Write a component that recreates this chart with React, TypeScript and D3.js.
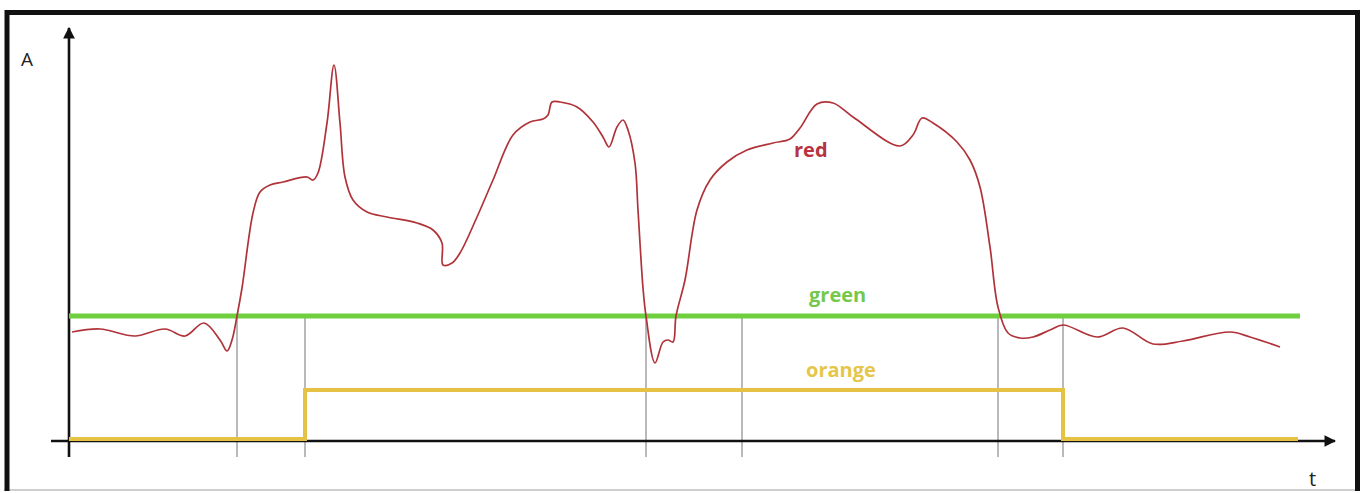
import React, { useEffect, useRef } from 'react';
import * as d3 from 'd3';

// red signal, sampled as [t, A]
const redSamples: [number, number][] = [
  [3, 109], [31, 112], [66, 105], [96, 112], [116, 105], [135, 118], [151, 101], [158, 90],
  [163, 101], [168, 125], [173, 153], [184, 228], [191, 249], [201, 256], [214, 259], [238, 264],
  [244, 261], [249, 268], [258, 318], [265, 376], [271, 318], [276, 264], [284, 241], [298, 229],
  [318, 224], [348, 218], [364, 211], [373, 198], [374, 176], [383, 178], [391, 188], [408, 224],
  [424, 261], [444, 306], [461, 319], [474, 322], [479, 326], [483, 339], [491, 339], [508, 334],
  [524, 319], [534, 304], [540, 294], [548, 314], [554, 321], [559, 311], [566, 278], [569, 231],
  [574, 153], [577, 125], [586, 78], [594, 99], [599, 101], [604, 99], [607, 125], [616, 161],
  [628, 231], [641, 261], [658, 279], [678, 291], [704, 298], [721, 302], [731, 313], [748, 337],
  [764, 338], [784, 324], [831, 295], [844, 306], [853, 323], [864, 318], [888, 299], [901, 281],
  [911, 254], [921, 194], [929, 134], [939, 108], [951, 103], [964, 104], [981, 111], [994, 116],
  [1028, 104], [1054, 113], [1084, 97], [1114, 100], [1161, 109], [1181, 104], [1211, 94],
];

// green threshold level
const greenLevel = 125;
const greenEnd = 1231;

// orange switching signal
const orangeT = [0, 236, 994, 1229];
const orangeA = [2, 51, 2, 2];

// times where the red signal crosses the threshold / orange switches
const markerT = [168, 236, 577, 673, 929, 994];

const labels = [
  { text: 'red', t: 725, a: 284, color: '#b8323f' },
  { text: 'green', t: 740, a: 139, color: '#76c84a' },
  { text: 'orange', t: 737, a: 64, color: '#e5c648' },
];

export default function App() {
  const ref = useRef<SVGSVGElement>(null);

  useEffect(() => {
    const svg = d3.select(ref.current);
    svg.selectAll('*').remove();

    const x = d3.scaleLinear().domain([0, 1231]).range([69, 1300]);
    const y = d3.scaleLinear().domain([0, 413]).range([441, 28]);

    // frame: black on three sides, faint line at the bottom
    svg.append('line')
      .attr('x1', 4).attr('x2', 1360)
      .attr('y1', 490).attr('y2', 490)
      .attr('stroke', '#cfcfcf').attr('stroke-width', 2);
    svg.append('path')
      .attr('d', 'M7,491 L7,12.5 L1357.5,12.5 L1357.5,491')
      .attr('fill', 'none')
      .attr('stroke', '#111')
      .attr('stroke-width', 5);

    // marker lines
    svg.selectAll('line.marker')
      .data(markerT)
      .enter()
      .append('line')
      .attr('class', 'marker')
      .attr('x1', d => x(d)).attr('x2', d => x(d))
      .attr('y1', y(greenLevel)).attr('y2', y(-16))
      .attr('stroke', '#a8a8a8')
      .attr('stroke-width', 1.6);

    // axes
    const defs = svg.append('defs');
    defs.append('marker')
      .attr('id', 'arrow')
      .attr('viewBox', '0 0 10 10')
      .attr('refX', 9).attr('refY', 5)
      .attr('markerWidth', 4.5).attr('markerHeight', 4.5)
      .attr('markerUnits', 'strokeWidth')
      .attr('orient', 'auto')
      .append('path')
      .attr('d', 'M0,0 L10,5 L0,10 z')
      .attr('fill', '#111');

    svg.append('line')
      .attr('x1', x(-18)).attr('x2', x(1266))
      .attr('y1', y(0)).attr('y2', y(0))
      .attr('stroke', '#111').attr('stroke-width', 2.6)
      .attr('marker-end', 'url(#arrow)');
    svg.append('line')
      .attr('x1', x(0)).attr('x2', x(0))
      .attr('y1', y(-16)).attr('y2', y(413))
      .attr('stroke', '#111').attr('stroke-width', 2.6)
      .attr('marker-end', 'url(#arrow)');

    svg.append('text')
      .attr('x', 21).attr('y', 66)
      .attr('font-family', 'Open Sans, sans-serif')
      .attr('font-size', 19)
      .attr('fill', '#222')
      .text('A');
    svg.append('text')
      .attr('x', 1309).attr('y', 486)
      .attr('font-family', 'Open Sans, sans-serif')
      .attr('font-size', 20)
      .attr('fill', '#222')
      .text('t');

    // green threshold
    svg.append('line')
      .attr('x1', x(0)).attr('x2', x(greenEnd))
      .attr('y1', y(greenLevel)).attr('y2', y(greenLevel))
      .attr('stroke', '#6fcf3f')
      .attr('stroke-width', 5);

    // orange step signal
    svg.append('path')
      .datum(orangeT.map((t, i) => [t, orangeA[i]] as [number, number]))
      .attr('fill', 'none')
      .attr('stroke', '#e6c244')
      .attr('stroke-width', 4)
      .attr('d', d3.line<[number, number]>()
        .x(d => x(d[0]))
        .y(d => y(d[1]))
        .curve(d3.curveStepAfter));

    // red signal
    svg.append('path')
      .datum(redSamples)
      .attr('fill', 'none')
      .attr('stroke', '#b0333a')
      .attr('stroke-width', 1.7)
      .attr('stroke-linejoin', 'round')
      .attr('d', d3.line<[number, number]>()
        .x(d => x(d[0]))
        .y(d => y(d[1]))
        .curve(d3.curveCatmullRom.alpha(0.5)));

    svg.selectAll('text.label')
      .data(labels)
      .enter()
      .append('text')
      .attr('class', 'label')
      .attr('x', d => x(d.t))
      .attr('y', d => y(d.a))
      .attr('font-family', 'Open Sans, sans-serif')
      .attr('font-weight', 'bold')
      .attr('font-size', 20)
      .attr('fill', d => d.color)
      .text(d => d.text);
  }, []);

  return (
    <svg
      ref={ref}
      width={1363}
      height={493}
      style={{ position: 'fixed', left: 0, top: 0, display: 'block', background: 'white' }}
    />
  );
}
